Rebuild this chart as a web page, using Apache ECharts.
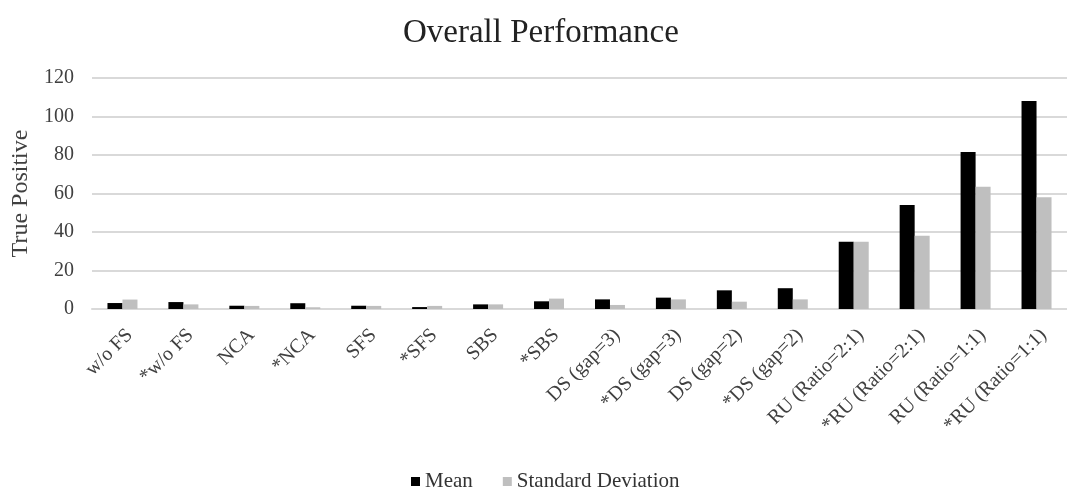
<!DOCTYPE html>
<html>
<head>
<meta charset="utf-8">
<script src="https://cdn.jsdelivr.net/npm/echarts@6/dist/echarts.min.js"></script>
<style>html,body{margin:0;padding:0;background:#fff}#c{width:1067px;height:487px}</style>
</head>
<body>
<div id="c"></div>
<script>
const categories = ["w/o FS","*w/o FS","NCA","*NCA","SFS","*SFS","SBS","*SBS","DS (gap=3)","*DS (gap=3)","DS (gap=2)","*DS (gap=2)","RU (Ratio=2:1)","*RU (Ratio=2:1)","RU (Ratio=1:1)","*RU (Ratio=1:1)"];
const meanValues = [3.1, 3.6, 1.7, 3.0, 1.7, 1.0, 2.4, 4.0, 5.0, 5.9, 9.7, 10.8, 35, 54, 81.5, 108];
const sdValues = [4.9, 2.4, 1.6, 0.9, 1.6, 1.6, 2.4, 5.4, 2.1, 5.0, 3.8, 5.0, 35, 38, 63.5, 58];
const yTicks = {min: 0, max: 120, interval: 20};

const FONT = '"Liberation Serif", "Times New Roman", serif';
const chart = echarts.init(document.getElementById('c'));
chart.setOption({
  backgroundColor: '#fff',
  animation: false,
  title: {
    text: 'Overall Performance',
    left: 398, top: 12,
    textStyle: {fontFamily: FONT, fontSize: 33, fontWeight: 'normal', color: '#222'}
  },
  legend: {
    left: 406, top: 466,
    icon: 'rect', itemWidth: 9, itemHeight: 9, itemGap: 30,
    textStyle: {fontFamily: FONT, fontSize: 21, color: '#333'},
    data: ['Mean', 'Standard Deviation']
  },
  grid: {left: 92, top: 78, width: 987, bottom: 178, containLabel: false},
  xAxis: {
    type: 'category', data: categories,
    axisLine: {lineStyle: {color: '#d9d9d9', width: 2}},
    axisTick: {show: false},
    axisLabel: {interval: 0, rotate: 45, margin: 16, verticalAlign: 'top', align: 'right',
      fontFamily: FONT, fontSize: 20, color: '#404040'}
  },
  yAxis: {
    type: 'value', min: yTicks.min, max: yTicks.max, interval: yTicks.interval,
    name: 'True Positive', nameLocation: 'middle', nameGap: 53, nameRotate: 90,
    nameTextStyle: {fontFamily: FONT, fontSize: 24, color: '#404040'},
    axisLine: {show: false}, axisTick: {show: false},
    axisLabel: {margin: 18, fontFamily: FONT, fontSize: 20, color: '#404040'},
    splitLine: {lineStyle: {color: '#d9d9d9', width: 2}}
  },
  series: [
    {name: 'Mean', type: 'bar', data: meanValues, barWidth: 15, barGap: '0%', itemStyle: {color: '#000'}},
    {name: 'Standard Deviation', type: 'bar', data: sdValues, barWidth: 15, barGap: '0%', itemStyle: {color: '#bfbfbf'}}
  ]
});
</script>
</body>
</html>
